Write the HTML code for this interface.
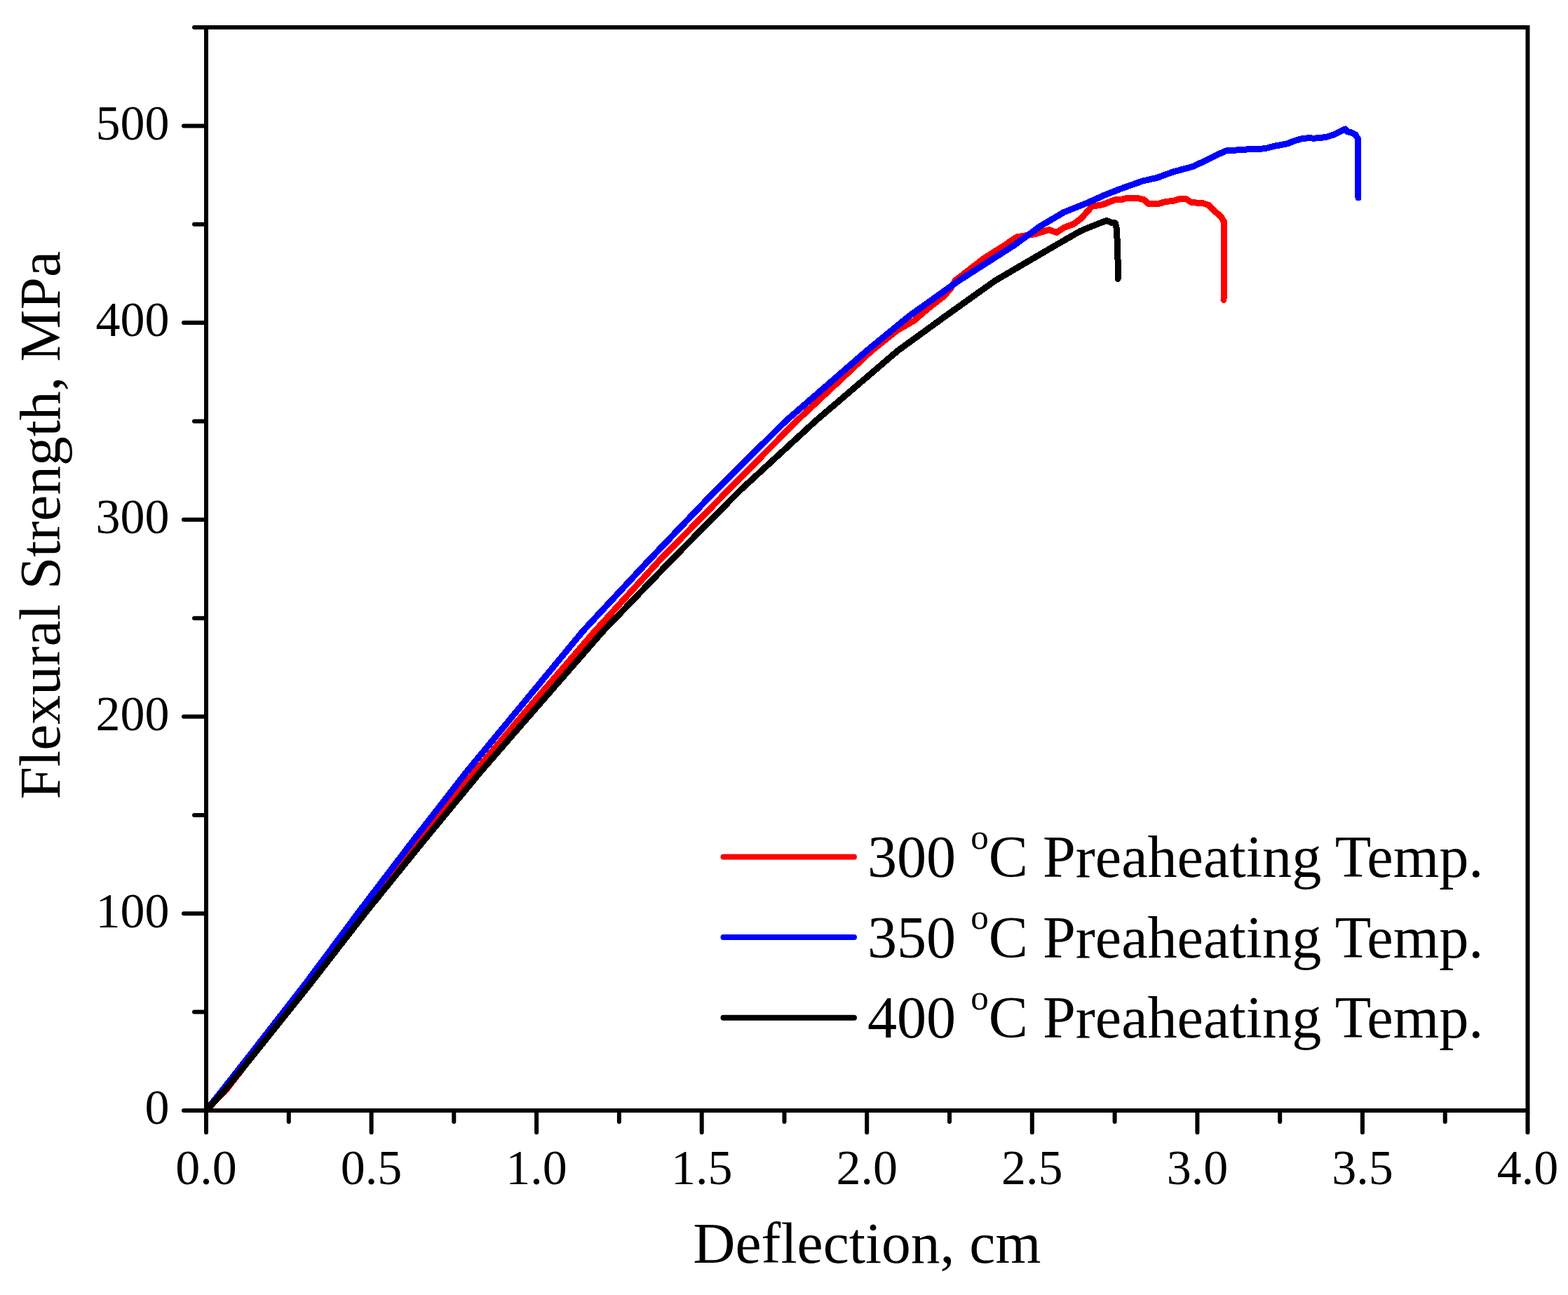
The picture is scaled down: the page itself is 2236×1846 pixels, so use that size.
<!DOCTYPE html>
<html><head><meta charset="utf-8"><title>Flexural Strength vs Deflection</title>
<style>
html,body{margin:0;padding:0;background:#fff;width:2236px;height:1846px;overflow:hidden}
svg{position:absolute;left:0;top:0}
text{font-family:"Liberation Serif",serif;fill:#000}
</style></head><body>
<svg width="2236" height="1846" viewBox="0 0 2236 1846">

<g fill="none" stroke-width="9" stroke-linejoin="round" stroke-linecap="round" shape-rendering="crispEdges">
<polyline stroke="#ff0000" points="294.0,1583.0 323.0,1553.0 364.0,1500.0 441.0,1400.0 517.0,1300.0 597.7,1200.0 677.2,1100.0 761.6,1000.0 848.0,900.0 939.4,800.0 1037.2,700.0 1136.1,600.0 1243.0,500.0 1279.5,470.9 1303.3,457.3 1317.6,444.7 1331.8,433.3 1346.1,422.3 1355.6,411.4 1362.0,400.0 1403.5,368.0 1432.0,350.0 1449.5,338.0 1477.2,333.4 1495.6,327.6 1506.9,331.4 1517.3,324.5 1531.1,319.3 1541.5,311.6 1550.0,302.2 1557.0,294.3 1572.6,291.7 1589.9,284.8 1600.0,284.3 1607.1,282.2 1621.0,282.2 1631.3,284.8 1638.2,290.8 1650.3,291.0 1662.4,287.4 1672.8,286.5 1681.4,283.9 1691.8,283.9 1698.7,288.5 1716.0,289.8 1724.0,292.7 1733.0,301.7 1741.6,309.4 1745.4,316.0 1745.4,400.0 1745.0,427.5"/>
<polyline stroke="#0000ff" points="294.0,1583.0 318.0,1553.0 359.5,1500.0 437.3,1400.0 511.7,1300.0 587.8,1200.0 665.5,1100.0 748.3,1000.0 830.9,900.0 924.1,800.0 1019.7,700.0 1120.7,600.0 1236.0,500.0 1297.1,450.0 1367.4,400.0 1445.7,350.0 1484.1,322.0 1517.3,302.5 1550.0,289.4 1577.8,277.0 1600.0,268.4 1629.6,258.0 1650.0,253.4 1672.8,245.0 1700.0,237.7 1716.0,230.5 1732.0,222.5 1748.0,215.0 1760.0,214.2 1774.3,213.3 1788.5,212.0 1798.0,212.3 1807.6,210.9 1817.1,208.2 1826.6,206.6 1836.1,204.7 1845.6,200.9 1855.1,198.1 1864.6,196.8 1874.1,197.1 1883.6,196.6 1893.1,194.9 1902.7,191.7 1912.2,186.9 1918.5,184.0 1921.0,187.5 1927.0,189.0 1933.0,192.0 1936.5,198.0 1937.0,282.0"/>
<polyline stroke="#000000" points="294.0,1583.0 321.5,1553.0 364.5,1500.0 444.4,1400.0 522.0,1300.0 603.0,1200.0 685.5,1100.0 772.4,1000.0 859.7,900.0 955.9,800.0 1054.4,700.0 1163.1,600.0 1280.2,500.0 1349.1,450.0 1419.2,400.0 1504.8,350.0 1540.0,329.7 1550.4,325.2 1560.7,321.1 1571.1,317.0 1578.0,314.5 1584.9,317.3 1590.5,318.0 1592.2,325.0 1593.0,340.0 1594.0,370.0 1594.0,397.5"/>
</g>
<g stroke="#000" stroke-width="6" stroke-linecap="round" fill="none">
<path d="M294,39 H2178.5 V1583 H294 Z" stroke-linejoin="miter" stroke-linecap="butt"/>
<path d="M294.0,1586 V1614.3 M529.6,1586 V1614.3 M765.1,1586 V1614.3 M1000.7,1586 V1614.3 M1236.2,1586 V1614.3 M1471.8,1586 V1614.3 M1707.4,1586 V1614.3 M1942.9,1586 V1614.3 M2178.5,1586 V1614.3 M411.8,1586 V1599 M647.3,1586 V1599 M882.9,1586 V1599 M1118.5,1586 V1599 M1354.0,1586 V1599 M1589.6,1586 V1599 M1825.2,1586 V1599 M2060.7,1586 V1599 M291,1583.0 H262 M291,1302.3 H262 M291,1021.5 H262 M291,740.8 H262 M291,460.1 H262 M291,179.4 H262 M291,1442.6 H277 M291,1161.9 H277 M291,881.2 H277 M291,600.5 H277 M291,319.7 H277 M291,39.0 H277"/>
</g>
<g font-size="70">
<text x="241.5" y="1602.2" text-anchor="end">0</text>
<text x="241.5" y="1321.5" text-anchor="end">100</text>
<text x="241.5" y="1040.7" text-anchor="end">200</text>
<text x="241.5" y="760.0" text-anchor="end">300</text>
<text x="241.5" y="479.3" text-anchor="end">400</text>
<text x="241.5" y="198.6" text-anchor="end">500</text>
<text x="294.0" y="1688" text-anchor="middle">0.0</text>
<text x="529.6" y="1688" text-anchor="middle">0.5</text>
<text x="765.1" y="1688" text-anchor="middle">1.0</text>
<text x="1000.7" y="1688" text-anchor="middle">1.5</text>
<text x="1236.2" y="1688" text-anchor="middle">2.0</text>
<text x="1471.8" y="1688" text-anchor="middle">2.5</text>
<text x="1707.4" y="1688" text-anchor="middle">3.0</text>
<text x="1942.9" y="1688" text-anchor="middle">3.5</text>
<text x="2178.5" y="1688" text-anchor="middle">4.0</text>
</g>
<text x="1236.3" y="1799.7" font-size="83.5" text-anchor="middle">Deflection, cm</text>
<text transform="translate(85,1139.5) rotate(-90)" x="0" y="0" font-size="83.5">Flexural Strength, MPa</text>
<line x1="1031.5" y1="1221.6" x2="1218" y2="1221.6" stroke="#ff0000" stroke-width="8" stroke-linecap="round"/>
<text x="1236.9" y="1250.2" font-size="84.2">300 <tspan font-size="51" dy="-40.5">o</tspan><tspan dy="40.5">C Preaheating Temp.</tspan></text>
<line x1="1031.5" y1="1336.1" x2="1218" y2="1336.1" stroke="#0000ff" stroke-width="8" stroke-linecap="round"/>
<text x="1236.9" y="1364.7" font-size="84.2">350 <tspan font-size="51" dy="-40.5">o</tspan><tspan dy="40.5">C Preaheating Temp.</tspan></text>
<line x1="1031.5" y1="1450.7" x2="1218" y2="1450.7" stroke="#000000" stroke-width="8" stroke-linecap="round"/>
<text x="1236.9" y="1479.3" font-size="84.2">400 <tspan font-size="51" dy="-40.5">o</tspan><tspan dy="40.5">C Preaheating Temp.</tspan></text>
</svg>
</body></html>
